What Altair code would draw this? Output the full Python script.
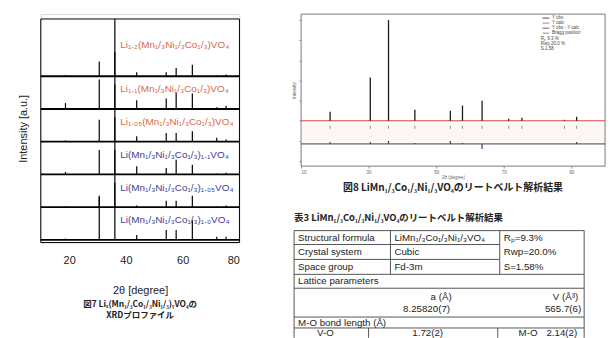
import altair as alt
import pandas as pd

# ---------------- Fig. 7 : stacked XRD profiles ----------------
peak_2theta = [18.7, 30.6, 36.1, 43.8, 54.2, 57.7, 63.4, 72.0, 75.3]
xrd_labels = [
    "Li₁.₂(Mn₁/₃Ni₁/₃Co₁/₃)VO₄",
    "Li₁.₁(Mn₁/₃Ni₁/₃Co₁/₃)VO₄",
    "Li₁.₀₅(Mn₁/₃Ni₁/₃Co₁/₃)VO₄",
    "Li(Mn₁/₃Ni₁/₃Co₁/₃)₁.₁VO₄",
    "Li(Mn₁/₃Ni₁/₃Co₁/₃)₁.₀₅VO₄",
    "Li(Mn₁/₃Ni₁/₃Co₁/₃)₁.₀VO₄",
]
xrd_group = ["Li", "Li", "Li", "M", "M", "M"]
h1 = [0.04, 0.45, 1.75, 0.12, 0.12, 0.25, 0.35, 0.03, 0.05]
h2 = [0.18, 0.90, 1.75, 0.27, 0.32, 0.50, 0.47, 0.05, 0.10]
h3 = [0.04, 0.67, 1.75, 0.17, 0.27, 0.27, 0.32, 0.12, 0.07]
h4 = [0.08, 0.75, 1.75, 0.25, 0.20, 0.45, 0.30, 0.03, 0.05]
h5 = [0.03, 0.35, 1.75, 0.05, 0.20, 0.20, 0.35, 0.03, 0.05]
h6 = [0.04, 1.30, 1.75, 0.15, 0.30, 0.30, 0.60, 0.10, 0.10]
xrd_heights = [h1, h2, h3, h4, h5, h6]
scan_start, scan_end = 10, 80
xrd_ymin, xrd_ymax = -0.08, 6.75

# ---------------- Fig. 8 : Rietveld refinement ----------------
riet_2theta = [18.6, 30.5, 35.9, 43.7, 54.2, 57.8, 63.6, 71.5, 75.4, 88.0, 91.6]
riet_obs = [0.09, 0.43, 1.0, 0.11, 0.10, 0.15, 0.20, 0.02, 0.03, 0.01, 0.04]
riet_diff = [0.02, 0.02, 0.03, 0.01, 0.03, 0.01, -0.05, 0.0, 0.0, 0.0, 0.02]
riet_series = ["Y obs", "Y calc", "Y obs - Y calc", "Bragg position"]
riet_fit_text = ["Rₚ 9.3 %", "Rwp 20.0 %", "S 1.58"]
riet_start, riet_end = 10, 100
diff_level = -0.23
riet_caption = "図8  LiMn₁/₃Co₁/₃Ni₁/₃VO₄のリートベルト解析結果"

# ---------------- Table 3 ----------------
tbl_title = "表3  LiMn₁/₃Co₁/₃Ni₁/₃VO₄のリートベルト解析結果"
tbl_labels = ["Structural formula", "Crystal system", "Space group"]
tbl_values = ["LiMn₁/₃Co₁/₃Ni₁/₃VO₄", "Cubic", "Fd-3m"]
tbl_fit = ["Rₚ=9.3%", "Rwp=20.0%", "S=1.58%"]
section_titles = ["Lattice parameters", "M-O bond length (Å)"]
lattice_heads = ["a (Å)", "V (Å³)"]
lattice_vals = ["8.25820(7)", "565.7(6)"]
bond_row = ["V-O", "1.72(2)", "M-O", "2.14(2)"]

LAT = "Liberation Sans"
JP = "Noto Sans CJK JP"
C_OBS, C_CALC, C_DIFF, C_BRAGG = "#1a1a1a", "#e0443c", "#3a3a5a", "#5a8a5a"

# ===== Fig 7 =====
n = len(xrd_labels)
rows = []
for i, hs in enumerate(xrd_heights):
    b = n - 1 - i
    for x, h in zip(peak_2theta, hs):
        rows.append({"x": x, "y": b, "y2": min(b + h, xrd_ymax)})
df_pk = pd.DataFrame(rows)
df_base = pd.DataFrame({"x0": [scan_start] * n, "x1": [scan_end] * n,
                        "b": [n - 1 - i for i in range(n)]})
df_lab = pd.DataFrame({
    "x": [38] * n,
    "y": [(n - 1 - i) + (0.95 if i == 0 else 0.6) for i in range(n)],
    "t": xrd_labels, "g": xrd_group})
df_frame = pd.DataFrame({"x": [scan_start], "x2": [scan_end], "y": [xrd_ymin], "y2": [xrd_ymax]})

xs = alt.Scale(domain=[scan_start, scan_end], nice=False, zero=False)
ys = alt.Scale(domain=[xrd_ymin, xrd_ymax + 0.15], nice=False, zero=False)

base = alt.Chart(df_base).mark_rule(color="black", strokeWidth=1.8).encode(
    x=alt.X("x0:Q", scale=xs, axis=alt.Axis(values=[20, 40, 60, 80], title="2θ [degree]",
            grid=False, ticks=False, domain=False, labelFontSize=11, titleFontSize=11,
            titleFontWeight="normal", labelPadding=12, titlePadding=19, labelFont=LAT,
            titleFont=LAT, labelColor="#222", titleColor="#222")),
    x2="x1:Q",
    y=alt.Y("b:Q", scale=ys, axis=alt.Axis(title="Intensity [a.u.]", labels=False,
            ticks=False, grid=False, domain=False, titleFontSize=11, titleFont=LAT,
            titleFontWeight="normal", titlePadding=12, titleColor="#222")),
)
frame = alt.Chart(df_frame).mark_rect(fillOpacity=0, stroke="black", strokeWidth=1).encode(
    x=alt.X("x:Q", scale=xs), x2="x2:Q", y=alt.Y("y:Q", scale=ys), y2="y2:Q")
pk = alt.Chart(df_pk).mark_rule(color="black", strokeWidth=1.2).encode(
    x=alt.X("x:Q", scale=xs), y=alt.Y("y:Q", scale=ys), y2="y2:Q")
lab = alt.Chart(df_lab).mark_text(align="left", baseline="middle", fontSize=10, font=LAT).encode(
    x=alt.X("x:Q", scale=xs), y=alt.Y("y:Q", scale=ys), text="t:N",
    color=alt.Color("g:N", scale=alt.Scale(domain=["Li", "M"], range=["#d8674c", "#40409a"]),
                    legend=None))

xrd = alt.layer(base, frame, pk, lab).properties(
    width=200, height=230,
    title=alt.TitleParams(text=["図7  Liₓ(Mn₁/₃Co₁/₃Ni₁/₃)ᵧVO₄の", "XRDプロファイル"],
                          orient="bottom", anchor="middle", fontSize=8.5, font=JP,
                          fontWeight="bold", offset=5, lineHeight=11, color="#222"))

# ===== Fig 8 =====
m = len(riet_2theta)
df_calc = pd.DataFrame({"x": [riet_start], "x2": [riet_end], "y": [0]})
df_dl = pd.DataFrame({"x": [riet_start], "x2": [riet_end], "y": [diff_level]})
df_obs = pd.DataFrame({"x": riet_2theta, "y": [0] * m, "y2": riet_obs})
df_dpk = pd.DataFrame({"x": riet_2theta, "y": [diff_level] * m,
                       "y2": [diff_level + d for d in riet_diff]})
df_br = pd.DataFrame({"x": riet_2theta, "y": [-0.05] * m, "y2": [-0.08] * m})
df_band = pd.DataFrame({"x": [riet_start], "x2": [riet_end], "y": [-0.02], "y2": [-0.21]})
df_rframe = pd.DataFrame({"x": [riet_start], "x2": [riet_end], "y": [-0.45], "y2": [1.06]})
# legend (annotation) + fit statistics
leg_y = [1.02, 0.97, 0.92, 0.87]
df_leg = pd.DataFrame({"x": [81.5] * 4, "x2": [83.5] * 4, "y": leg_y, "t": riet_series,
                       "tx": [84.3] * 4, "c": [C_OBS, C_CALC, C_DIFF, C_BRAGG]})
df_ft = pd.DataFrame({"t": riet_fit_text, "x": [81.0] * 3, "y": [0.81, 0.76, 0.71]})

rxs = alt.Scale(domain=[riet_start, riet_end], nice=False, zero=False)
rys = alt.Scale(domain=[-0.45, 1.06], nice=False, zero=False)

band = alt.Chart(df_band).mark_rect(color="#fdf6f4").encode(
    x=alt.X("x:Q", scale=rxs, axis=alt.Axis(values=list(range(10, 101, 10)), title="2θ (degree)",
            labelFontSize=4.5, titleFontSize=4.5, tickSize=2, labelPadding=1, titlePadding=1,
            grid=False, domain=False, titleFontWeight="normal", labelColor="#666",
            titleColor="#666", tickColor="#888")),
    x2="x2:Q",
    y=alt.Y("y:Q", scale=rys, axis=alt.Axis(title="Intensity", labels=False, tickSize=2,
            tickCount=8, grid=False, domain=False, titleFontSize=4.5, titlePadding=2,
            titleFontWeight="normal", titleColor="#666", tickColor="#888")),
    y2="y2:Q")
rframe = alt.Chart(df_rframe).mark_rect(fillOpacity=0, stroke="#888", strokeWidth=1).encode(
    x=alt.X("x:Q", scale=rxs), x2="x2:Q", y=alt.Y("y:Q", scale=rys), y2="y2:Q")
calc = alt.Chart(df_calc).mark_rule(color=C_CALC, strokeWidth=1).encode(
    x=alt.X("x:Q", scale=rxs), x2="x2:Q", y=alt.Y("y:Q", scale=rys))
dline = alt.Chart(df_dl).mark_rule(color=C_DIFF, strokeWidth=1).encode(
    x=alt.X("x:Q", scale=rxs), x2="x2:Q", y=alt.Y("y:Q", scale=rys))
obs = alt.Chart(df_obs).mark_rule(color=C_OBS, strokeWidth=1.3).encode(
    x=alt.X("x:Q", scale=rxs), y=alt.Y("y:Q", scale=rys), y2="y2:Q")
dpk = alt.Chart(df_dpk).mark_rule(color=C_DIFF, strokeWidth=1.2).encode(
    x=alt.X("x:Q", scale=rxs), y=alt.Y("y:Q", scale=rys), y2="y2:Q")
bragg = alt.Chart(df_br).mark_rule(color=C_BRAGG, strokeWidth=0.8).encode(
    x=alt.X("x:Q", scale=rxs), y=alt.Y("y:Q", scale=rys), y2="y2:Q")
leg_lines = alt.Chart(df_leg).mark_rule(strokeWidth=0.8).encode(
    x=alt.X("x:Q", scale=rxs), x2="x2:Q", y=alt.Y("y:Q", scale=rys),
    color=alt.Color("c:N", scale=None))
leg_text = alt.Chart(df_leg).mark_text(align="left", baseline="middle", fontSize=4.5, font=LAT,
                                       color="#444").encode(
    x=alt.X("tx:Q", scale=rxs), y=alt.Y("y:Q", scale=rys), text="t:N")
fit = alt.Chart(df_ft).mark_text(align="left", baseline="middle", fontSize=4.5, font=LAT,
                                 color="#444").encode(
    x=alt.X("x:Q", scale=rxs), y=alt.Y("y:Q", scale=rys), text="t:N")
riet_inner = alt.layer(band, rframe, calc, dline, obs, dpk, bragg, leg_lines, leg_text, fit)

# ===== Table 3 + captions (drawn below the Rietveld plot with their own scales) =====
TW, TH = 292, 108
cx = [4, 101, 211]
ry = [7, 21.5, 36.5]
txt = []
for r in range(3):
    txt.append({"x": cx[0], "y": ry[r], "t": tbl_labels[r], "a": "left"})
    txt.append({"x": cx[1], "y": ry[r], "t": tbl_values[r], "a": "left"})
    txt.append({"x": cx[2], "y": ry[r], "t": tbl_fit[r], "a": "left"})
txt.append({"x": 4, "y": 51, "t": section_titles[0], "a": "left"})
txt.append({"x": 148, "y": 67, "t": lattice_heads[0], "a": "middle"})
txt.append({"x": 286, "y": 67, "t": lattice_heads[1], "a": "right"})
txt.append({"x": 157, "y": 79, "t": lattice_vals[0], "a": "right"})
txt.append({"x": 289, "y": 79, "t": lattice_vals[1], "a": "right"})
txt.append({"x": 4, "y": 93, "t": section_titles[1], "a": "left"})
for j, xx in enumerate([40, 150, 245, 285]):
    txt.append({"x": xx, "y": 103, "t": bond_row[j], "a": "right"})
df_txt = pd.DataFrame(txt)
df_cap = pd.DataFrame({"x": [160, 0], "y": [-43, -13], "t": [riet_caption, tbl_title],
                       "a": ["middle", "left"]})
lines_spec = [
    (0, TW, 0, 0), (0, 207, 14, 14), (0, 207, 29, 29), (0, TW, 44, 44), (0, TW, 58, 58),
    (0, TW, 87, 87), (0, TW, 98, 98),
    (0, 0, 0, TH), (TW, TW, 0, TH), (97, 97, 0, 44), (207, 207, 0, 44),
    (75, 75, 98, TH), (205, 205, 98, TH),
]
df_seg = pd.DataFrame(lines_spec, columns=["x", "x2", "y", "y2"])
txs = alt.Scale(domain=[0, TW], range=[-7, 285], nice=False, zero=False)
tys = alt.Scale(domain=[0, TH], range=[218, 218 + TH], nice=False, zero=False)
lines = alt.Chart(df_seg).mark_rule(color="#555", strokeWidth=1).encode(
    x=alt.X("x:Q", scale=txs, axis=None), x2="x2:Q",
    y=alt.Y("y:Q", scale=tys, axis=None), y2="y2:Q")


def tlayer(kind, align):
    return alt.Chart(df_txt[df_txt.a == kind]).mark_text(
        align=align, baseline="middle", fontSize=9.8, font=LAT, color="#222").encode(
        x=alt.X("x:Q", scale=txs, axis=None), y=alt.Y("y:Q", scale=tys, axis=None), text="t:N")


cap_mid = alt.Chart(df_cap[df_cap.a == "middle"]).mark_text(
    align="center", baseline="middle", fontSize=10, font=JP, fontWeight="bold", color="#222").encode(
    x=alt.X("x:Q", scale=txs, axis=None), y=alt.Y("y:Q", scale=tys, axis=None), text="t:N")
cap_left = alt.Chart(df_cap[df_cap.a == "left"]).mark_text(
    align="left", baseline="middle", fontSize=9.5, font=JP, fontWeight="bold", color="#222").encode(
    x=alt.X("x:Q", scale=txs, axis=None), y=alt.Y("y:Q", scale=tys, axis=None), text="t:N")
table_inner = alt.layer(lines, tlayer("left", "left"), tlayer("right", "right"),
                        tlayer("middle", "center"), cap_mid, cap_left)

right = alt.layer(riet_inner, table_inner).resolve_scale(
    x="independent", y="independent").properties(width=306, height=153)

chart = alt.hconcat(xrd, right, spacing=62, bounds="flush").properties(
    padding={"left": 9, "top": 4, "right": 0, "bottom": 0}
).configure_view(stroke=None).configure(background="white")

chart.save("out.html", embed_options={"renderer": "svg", "actions": False})
